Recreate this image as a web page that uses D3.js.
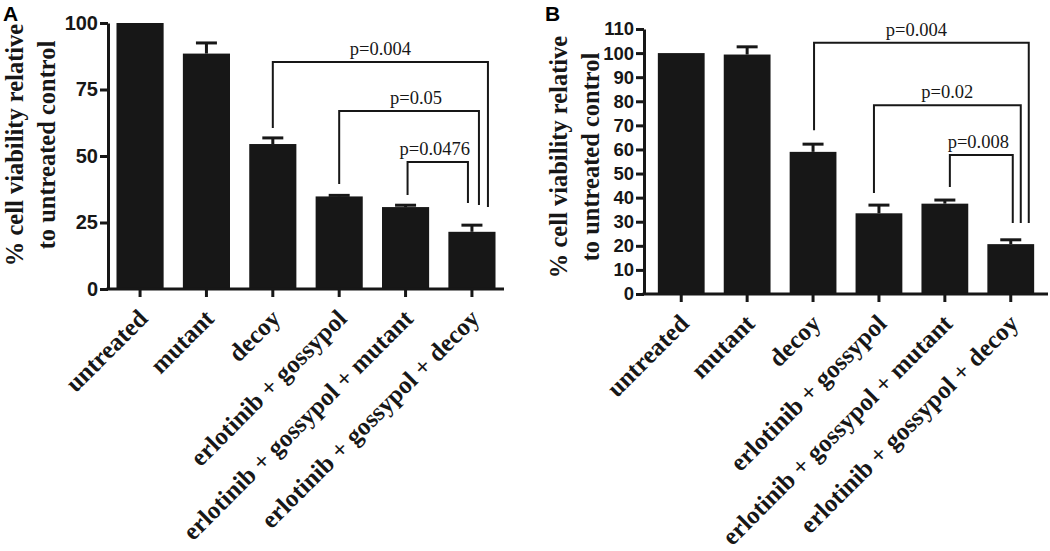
<!DOCTYPE html>
<html>
<head>
<meta charset="utf-8">
<script src="https://cdn.jsdelivr.net/npm/d3@7"></script>
<style>
  body { margin: 0; background: #fff; }
  svg { display: block; }
</style>
</head>
<body>
<div id="chart"></div>
<script>
// DATA
var categories = ["untreated", "mutant", "decoy", "erlotinib + gossypol",
  "erlotinib + gossypol + mutant", "erlotinib + gossypol + decoy"];

var viabilityA = [100, 88.5, 54.5, 34.8, 30.8, 21.5];
var errorA     = [0, 4, 2.3, 0.4, 0.7, 2.5];
var ticksA     = [0, 25, 50, 75, 100];

var viabilityB = [100, 99.4, 59, 33.5, 37.5, 20.7];
var errorB     = [0, 3.2, 3.2, 3.4, 1.5, 1.8];
var ticksB     = [0, 10, 20, 30, 40, 50, 60, 70, 80, 90, 100, 110];

// comparisons: [from index, to index, label]
var compareA = [[2, 5, "p=0.004"], [3, 5, "p=0.05"], [4, 5, "p=0.0476"]];
var compareB = [[2, 5, "p=0.004"], [3, 5, "p=0.02"], [4, 5, "p=0.008"]];
// bracket levels (bar, left drop end, right drop end) in % units
var levelsA = [[85.3, 60.5, 30.8], [66.9, 39.5, 31.6], [47.7, 35.3, 32.3]];
var levelsB = [[104.3, 68, 29.5], [78.4, 41.9, 29.5], [57.7, 44.4, 29.5]];

var W = 1050, H = 551;
var svg = d3.select("#chart").append("svg")
  .attr("width", W).attr("height", H);
svg.append("rect").attr("width", W).attr("height", H).attr("fill", "#fff");

var serif = "'Liberation Serif', 'Times New Roman', serif";
var sans = "'Liberation Sans', Arial, sans-serif";
var ink = "#171717";

function drawPanel(p) {
  var g = svg.append("g");

  var x = d3.scaleBand().domain(categories)
    .range([p.x0, p.x1]).paddingInner(0.29).paddingOuter(p.outer);
  var y = d3.scaleLinear().domain([0, p.ymax]).range([p.yBottom, p.yTop]);

  // bars
  g.selectAll(".bar").data(p.values).enter().append("rect")
    .attr("x", function(d, i) { return x(categories[i]); })
    .attr("y", function(d) { return y(d); })
    .attr("width", x.bandwidth())
    .attr("height", function(d) { return y(0) - y(d); })
    .attr("fill", ink);

  // error bars
  p.values.forEach(function(v, i) {
    if (!p.errors[i]) return;
    var cx = x(categories[i]) + x.bandwidth() / 2;
    g.append("line").attr("x1", cx).attr("x2", cx)
      .attr("y1", y(v)).attr("y2", y(v + p.errors[i]))
      .attr("stroke", ink).attr("stroke-width", 3);
    g.append("line").attr("x1", cx - 10.5).attr("x2", cx + 10.5)
      .attr("y1", y(v + p.errors[i])).attr("y2", y(v + p.errors[i]))
      .attr("stroke", ink).attr("stroke-width", 3);
  });

  // y axis
  var ya = g.append("g").attr("transform", "translate(" + p.x0 + ",0)")
    .call(d3.axisLeft(y).tickValues(p.ticks).tickSize(8).tickSizeOuter(0).tickPadding(2));
  ya.select(".domain").attr("stroke", ink).attr("stroke-width", 3);
  ya.selectAll(".tick line").attr("stroke", ink).attr("stroke-width", 3);
  ya.selectAll(".tick text").attr("fill", ink)
    .style("font-family", sans).style("font-weight", "bold")
    .style("font-size", p.tickFont + "px");

  // x axis
  var xa = g.append("g").attr("transform", "translate(0," + y(0) + ")")
    .call(d3.axisBottom(x).tickSize(8).tickSizeOuter(0));
  xa.select(".domain").attr("stroke", ink).attr("stroke-width", 3)
    .attr("d", "M" + (p.x0 - 1.5) + ",0H" + p.x1);
  xa.selectAll(".tick line").attr("stroke", ink).attr("stroke-width", 3);
  xa.selectAll(".tick text")
    .attr("text-anchor", "end")
    .attr("dy", null)
    .attr("transform", "translate(9,31) rotate(-45)")
    .attr("x", 0).attr("y", 0)
    .attr("fill", ink)
    .style("font-family", serif).style("font-weight", "bold")
    .style("font-size", "25px");

  // y label
  var lab = g.append("text")
    .attr("transform", "translate(" + p.labelX + "," + p.labelY + ") rotate(-90)")
    .attr("text-anchor", "middle")
    .style("font-family", serif).style("font-weight", "bold")
    .style("font-size", "24.5px").attr("fill", ink);
  lab.append("tspan").attr("x", 0).attr("y", 0).text("% cell viability relative");
  lab.append("tspan").attr("x", 0).attr("y", 32).text("to untreated control");

  // panel letter
  g.append("text").attr("x", p.letterX).attr("y", 21)
    .style("font-family", sans).style("font-weight", "bold")
    .style("font-size", "21px").attr("fill", "#000").text(p.letter);

  // significance brackets
  p.compare.forEach(function(c, k) {
    var lv = p.levels[k];
    var xl = x(categories[c[0]]) + x.bandwidth() / 2 + p.leftShift[k];
    var xr = x(categories[c[1]]) + x.bandwidth() / 2 + p.rightShift[k];
    g.append("path")
      .attr("d", "M" + xl + "," + y(lv[1]) + "V" + y(lv[0]) + "H" + xr + "V" + y(lv[2]))
      .attr("fill", "none").attr("stroke", ink).attr("stroke-width", 2);
    g.append("text")
      .attr("x", (xl + xr) / 2 + p.textShift[k]).attr("y", y(lv[0]) - 7)
      .attr("text-anchor", "middle")
      .style("font-family", serif).style("font-size", "18.5px")
      .attr("fill", ink).text(c[2]);
  });
}

drawPanel({
  values: viabilityA, errors: errorA, ticks: ticksA, ymax: 100,
  x0: 108, x1: 504, outer: 0.128, yBottom: 289, yTop: 23,
  tickFont: 20, labelX: 23, labelY: 145, letter: "A", letterX: 3,
  compare: compareA, levels: levelsA,
  leftShift: [0, 0, 2], rightShift: [16, 7, -4], textShift: [0, 7, -3]
});

drawPanel({
  values: viabilityB, errors: errorB, ticks: ticksB, ymax: 110,
  x0: 644, x1: 1048, outer: 0.21, yBottom: 294, yTop: 29,
  tickFont: 18.5, labelX: 567, labelY: 157, letter: "B", letterX: 545,
  compare: compareB, levels: levelsB,
  leftShift: [1, -5, 5], rightShift: [18, 10, 2], textShift: [-5, 0, -3]
});
</script>
</body>
</html>
